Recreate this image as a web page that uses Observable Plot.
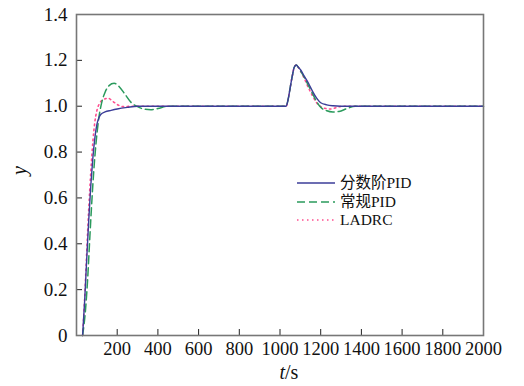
<!DOCTYPE html>
<html><head><meta charset="utf-8">
<script src="https://cdn.jsdelivr.net/npm/d3@7"></script>
<script src="https://cdn.jsdelivr.net/npm/@observablehq/plot@0.6"></script>
<style>
body{margin:0;background:#fff}
#wrap{position:relative;width:524px;height:386px}
#legend{position:absolute;left:296px;top:174px;font-family:"Liberation Serif","Noto Sans CJK SC",serif;font-size:15.5px;color:#111;line-height:18.5px}
#legend div{display:flex;align-items:center;height:18.5px}
#legend svg{margin-right:4px}
</style>
</head><body><div id="wrap"><div id="legend"></div></div>
<script>
// series names
const seriesNames = ["分数阶PID", "常规PID", "LADRC"];
// 分数阶PID
const fracT = [30,40,50,60,70,80,90,100,110,120,140,170,200,250,300,470,1030,1040,1050,1060,1070,1080,1090,1100,1120,1140,1160,1180,1200,1230,1260,1300,2000];
const fracY = [0,0.15,0.33,0.5,0.65,0.77,0.86,0.92,0.95,0.965,0.975,0.982,0.988,0.995,1.0,1.0,1.0,1.03,1.08,1.13,1.17,1.18,1.17,1.16,1.13,1.1,1.065,1.035,1.015,1.006,1.002,1.0,1.0];
// 常规PID
const pidT = [30,45,55,65,75,85,95,110,125,140,160,185,210,240,270,295,330,365,400,450,1030,1040,1050,1060,1070,1080,1090,1100,1120,1140,1160,1180,1200,1230,1260,1290,1330,1370,2000];
const pidY = [0,0.12,0.25,0.42,0.58,0.72,0.83,0.95,1.02,1.06,1.09,1.1,1.085,1.05,1.015,1.0,0.988,0.985,0.99,1.0,1.0,1.03,1.08,1.13,1.17,1.18,1.17,1.155,1.125,1.09,1.055,1.02,0.995,0.98,0.975,0.977,0.99,1.0,1.0];
// LADRC
const ladrcT = [30,40,50,60,70,80,90,100,115,135,155,180,205,230,270,1030,1040,1050,1060,1070,1080,1090,1100,1120,1140,1160,1180,1200,1225,1250,1280,1310,2000];
const ladrcY = [0,0.16,0.36,0.55,0.71,0.84,0.93,0.98,1.015,1.03,1.035,1.02,1.005,0.998,1.0,1.0,1.03,1.08,1.13,1.17,1.18,1.17,1.155,1.12,1.08,1.045,1.015,0.998,0.99,0.988,0.995,1.0,1.0];
// ticks
const xTicks = [200,400,600,800,1000,1200,1400,1600,1800,2000];
const yTicks = [0,0.2,0.4,0.6,0.8,1.0,1.2,1.4];

const colors = ["#3b3d98", "#2a9a5c", "#ff4d8f"];
const dashes = [null, "8,4", "1.5,3.5"];

const toRows = (T, Y, s) => T.map((t, i) => ({t, y: Y[i], s}));
const frac = toRows(fracT, fracY, seriesNames[0]);
const pid = toRows(pidT, pidY, seriesNames[1]);
const ladrc = toRows(ladrcT, ladrcY, seriesNames[2]);

const W = 524, H = 386, mL = 76, mR = 41, mT = 14, mB = 51;
const pw = W - mL - mR, ph = H - mT - mB;
const font = "Liberation Serif";

const chart = Plot.plot({
  width: W, height: H,
  marginLeft: mL, marginRight: mR, marginTop: mT, marginBottom: mB,
  style: {fontFamily: font, fontSize: "19px", color: "#111", background: "#fff"},
  x: {domain: [0, 2000]},
  y: {domain: [0, 1.4]},
  marks: [
    Plot.line(ladrc, {x: "t", y: "y", stroke: colors[2], strokeWidth: 1.6, strokeDasharray: dashes[2], curve: "monotone-x"}),
    Plot.line(pid, {x: "t", y: "y", stroke: colors[1], strokeWidth: 1.5, strokeDasharray: dashes[1], curve: "monotone-x"}),
    Plot.line(frac, {x: "t", y: "y", stroke: colors[0], strokeWidth: 1.4, curve: "monotone-x"}),
    Plot.tickX(xTicks.slice(0, -1), {x: d => d, insetTop: ph - 6, stroke: "#222"}),
    Plot.tickY(yTicks.slice(1, -1), {y: d => d, insetRight: pw - 6, stroke: "#222"}),
    Plot.frame({stroke: "#777", strokeWidth: 1.6}),
    Plot.axisX(xTicks, {tickSize: 0, tickPadding: 6, fontSize: 18.5, fill: "#111", label: null, tickFormat: d => String(d)}),
    Plot.axisY(yTicks, {tickSize: 0, tickPadding: 9, fontSize: 19, fill: "#111", label: null, tickFormat: d => d === 0 ? "0" : d.toFixed(1)}),
    Plot.text(["y"], {frameAnchor: "left", dx: -57, rotate: -90, fontStyle: "italic", fontSize: 20, fill: "#111"}),
    Plot.text([0], {frameAnchor: "bottom", dx: 5, dy: 43, text: () => "t", fontStyle: "italic", fontSize: 20, fill: "#111", textAnchor: "end"}),
    Plot.text([0], {frameAnchor: "bottom", dx: 5, dy: 43, text: () => "/s", fontSize: 20, fill: "#111", textAnchor: "start"})
  ]
});
const wrap = document.getElementById("wrap");
wrap.insertBefore(chart, wrap.firstChild);

const legend = document.getElementById("legend");
seriesNames.forEach((name, i) => {
  const row = document.createElement("div");
  row.innerHTML = `<svg width="40" height="6"><line x1="1" x2="39" y1="3" y2="3" stroke="${colors[i]}" stroke-width="1.5" ${dashes[i] ? `stroke-dasharray="${dashes[i]}"` : ""}/></svg><span>${name}</span>`;
  legend.appendChild(row);
});
</script>
</body></html>
